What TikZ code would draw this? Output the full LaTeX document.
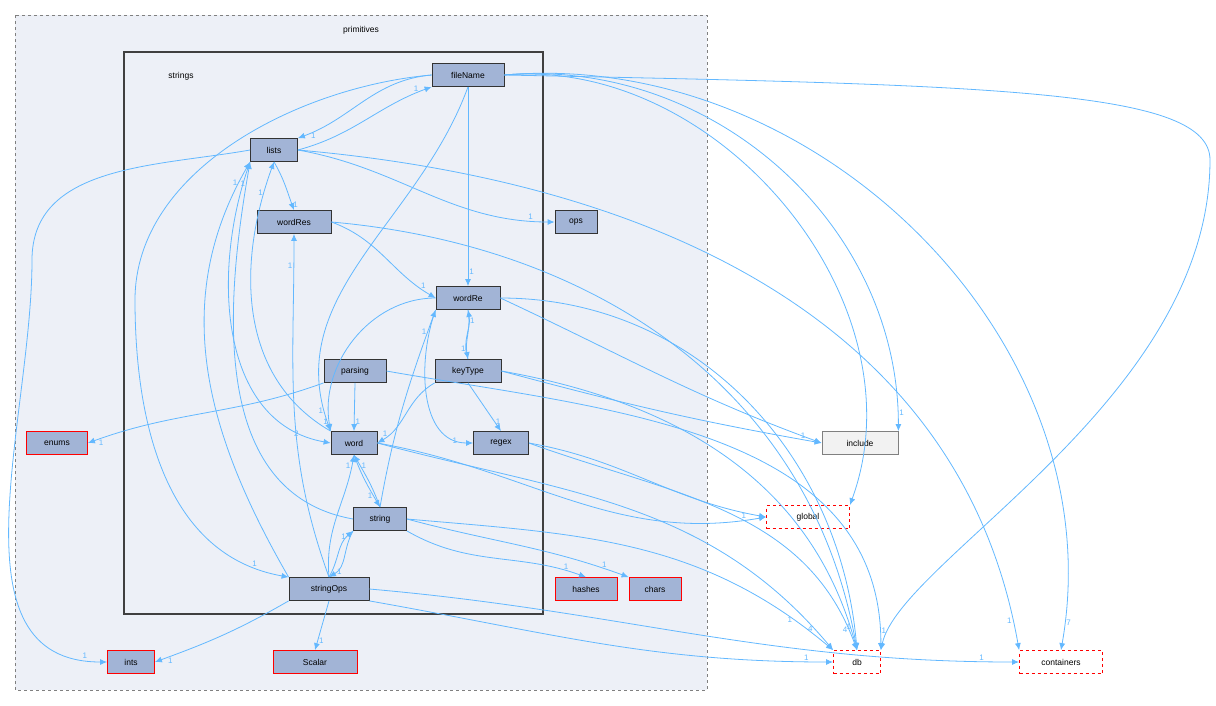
\documentclass[tikz,border=0pt]{standalone}
\usepackage{fontspec}
\setmainfont{Liberation Sans}
\usetikzlibrary{arrows.meta}
\definecolor{edge}{HTML}{63B8FF}
\definecolor{nfill}{HTML}{A2B4D6}
\definecolor{cfill}{HTML}{EDF0F7}
\begin{document}
\begin{tikzpicture}[x=1pt,y=-1pt,
 n/.style={draw=black!80,line width=0.8pt,fill=nfill,minimum height=23pt,inner sep=2pt,font=\fontsize{8.5}{10}\selectfont},
 r/.style={n,draw=red},
 d/.style={n,draw=red,dashed,fill=white},
 e/.style={draw=edge,-{Latex[length=7pt,width=6pt]},line width=0.8pt},
 l/.style={font=\fontsize{8}{9}\selectfont,text=edge,inner sep=1pt}]
\useasboundingbox (0,0) rectangle (1216,705);
\draw[gray,dashed,fill=cfill] (15,15) rectangle (707,690);
\node[font=\fontsize{8.5}{10}\selectfont] (tp) at (361,30) {primitives};
\draw[black!75,line width=1.5pt] (124,52) rectangle (543,614);
\node[font=\fontsize{8.5}{10}\selectfont] (ts) at (181,76) {strings};
\node[n,minimum width=72pt] (fileName) at (468,75) {fileName};
\node[n,minimum width=47pt] (lists) at (274,150) {lists};
\node[n,minimum width=74pt] (wordRes) at (294,222) {wordRes};
\node[n,minimum width=42pt] (ops) at (576,222) {ops};
\node[n,minimum width=64pt] (wordRe) at (468,298) {wordRe};
\node[n,minimum width=62pt] (parsing) at (355,371) {parsing};
\node[n,minimum width=66pt] (keyType) at (468,371) {keyType};
\node[n,minimum width=46pt] (word) at (354,443) {word};
\node[n,minimum width=55pt] (regex) at (501,443) {regex};
\node[n,minimum width=53pt] (string) at (380,519) {string};
\node[n,minimum width=80pt] (stringOps) at (329,589) {stringOps};
\node[r,minimum width=61pt] (enums) at (57,443) {enums};
\node[r,minimum width=47pt] (ints) at (131,662) {ints};
\node[r,minimum width=84pt] (Scalar) at (315,662) {Scalar};
\node[r,minimum width=62pt] (hashes) at (586,589) {hashes};
\node[r,minimum width=52pt] (chars) at (655,589) {chars};
\node[n,draw=gray,fill=white!95!black,minimum width=76pt] (include) at (860,443) {include};
\node[d,minimum width=83pt] (global) at (808,517) {global};
\node[d,minimum width=47pt] (db) at (857,662) {db};
\node[d,minimum width=83pt] (containers) at (1061,662) {containers};
% edges
\draw[e] (fileName.west) to[out=185,in=20] node[l,pos=0.9,below]{1} (lists.north east);
\draw[e] (lists.east) to[out=15,in=200] node[l,pos=0.9,above]{1} (fileName.south west);
\draw[e] (fileName.south) -- node[l,pos=0.93,right]{1} (wordRe.north);
\draw[e] (fileName.south) to[out=250,in=110] node[l,pos=0.95,left]{1} (word.north west);
\draw[e] (fileName.west) to[out=185,in=90,looseness=0.9] (135,300) to[out=270,in=170] node[l,pos=0.9,above]{1} (stringOps.north west);
\draw[e] (fileName.east) to[out=5,in=90] node[l,pos=0.97,right]{1} (include.north east);
\draw[e] (fileName.east) to[out=5,in=70] (global.north east);
\draw[e] (fileName.east) .. controls (1000,85) and (1210,90) .. (1210,160) .. controls (1210,400) and (900,560) .. (db.north east);
\draw[e] (fileName.east) to[out=5,in=80] node[l,pos=0.97,right]{7} (containers.north);
\draw[e] (lists.south) to[out=300,in=110] node[l,pos=0.9,right]{1} (wordRes.north);
\draw[e] (lists.east) to[out=-10,in=180] node[l,pos=0.92,above]{1} (ops.west);
\draw[e] (lists.west) to[out=190,in=90] (32,260) to[out=270,in=180] node[l,pos=0.95,above]{1} (ints.west);
\draw[e] (lists.east) to[out=-5,in=100] node[l,pos=0.97,left]{1} (containers.north west);
\draw[e] (wordRes.east) to[out=-20,in=150] node[l,pos=0.9,above]{1} (wordRe.west);
\draw[e] (wordRes.east) to[out=-5,in=100] node[l,pos=0.97,left]{1} (db.north);
\draw[e] (wordRe.south) to[out=280,in=100] node[l,pos=0.8,left]{1} (keyType.north);
\draw[e] (keyType.north) to[out=110,in=280] node[l,pos=0.8,right]{1} (wordRe.south);
\draw[e] (wordRe.west) to[out=180,in=100] node[l,pos=0.95,left]{1} (word.north west);
\draw[e] (wordRe.south west) to[out=250,in=180] node[l,pos=0.9,left]{1} (regex.west);
\draw[e] (wordRe.east) to[out=-25,in=160] (include.west);
\draw[e] (wordRe.east) to[out=0,in=95] (db.north);
\draw[e] (keyType.south west) to[out=210,in=30] node[l,pos=0.9,above]{1} (word.east);
\draw[e] (keyType.south) -- node[l,pos=0.8,right]{1} (regex.north);
\draw[e] (keyType.east) to[out=-15,in=170] node[l,pos=0.95,above]{1} (include.west);
\draw[e] (keyType.east) to[out=-10,in=105] (db.north);
\draw[e] (parsing.south west) to[out=200,in=20] node[l,pos=0.95,below]{1} (enums.east);
\draw[e] (parsing.south) -- node[l,pos=0.8,right]{1} (word.north);
\draw[e] (parsing.east) to[out=-10,in=90] node[l,pos=0.97,right]{1} (db.north east);
\draw[e] (word.north west) to[out=150,in=250] node[l,pos=0.9,left]{1} (lists.south);
\draw[e] (lists.south west) to[out=250,in=170] node[l,pos=0.9,left]{2} (word.west);
\draw[e] (word.south) to[out=290,in=120] node[l,pos=0.8,left]{1} (string.north);
\draw[e] (string.north) to[out=110,in=300] node[l,pos=0.8,right]{1} (word.south);
\draw[e] (word.east) to[out=-10,in=190] node[l,pos=0.95,above]{1} (global.west);
\draw[e] (word.east) to[out=-15,in=130] node[l,pos=0.95,left]{4} (db.north west);
\draw[e] (regex.east) to[out=-10,in=170] (global.west);
\draw[e] (regex.east) to[out=-20,in=110] node[l,pos=0.95,left]{4} (db.north);
\draw[e] (string.west) to[out=170,in=260] node[l,pos=0.95,left]{1} (lists.south west);
\draw[e] (string.north) to[out=80,in=250] node[l,pos=0.9,left]{1} (wordRe.south west);
\draw[e] (string.south east) to[out=-30,in=160] node[l,pos=0.9,above]{1} (hashes.north);
\draw[e] (string.east) to[out=-15,in=160] node[l,pos=0.9,above]{1} (chars.north west);
\draw[e] (string.east) to[out=-5,in=140] node[l,pos=0.9,left]{1} (db.north west);
\draw[e] (string.south west) to[out=240,in=30] node[l,pos=0.85,right]{1} (stringOps.north);
\draw[e] (stringOps.north) to[out=60,in=220] node[l,pos=0.85,left]{1} (string.south west);
\draw[e] (stringOps.north) to[out=95,in=260] node[l,pos=0.92,left]{1} (word.south);
\draw[e] (stringOps.north west) to[out=120,in=240] node[l,pos=0.95,left]{1} (lists.south west);
\draw[e] (stringOps.north) to[out=110,in=270] node[l,pos=0.92,left]{1} (wordRes.south);
\draw[e] (stringOps.south west) to[out=210,in=20] node[l,pos=0.9,below]{1} (ints.east);
\draw[e] (stringOps.south) -- node[l,pos=0.8,right]{1} (Scalar.north);
\draw[e] (stringOps.south east) to[out=-10,in=180] node[l,pos=0.95,above]{1} (db.west);
\draw[e] (stringOps.east) to[out=-5,in=180] node[l,pos=0.95,above]{1} (containers.west);
\end{tikzpicture}
\end{document}
